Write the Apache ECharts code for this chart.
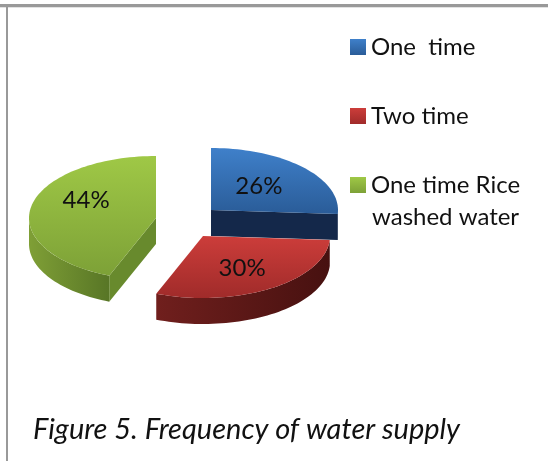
<!DOCTYPE html>
<html>
<head>
    <meta charset="UTF-8">
    <title>Figure 5</title>
    <script src="https://cdn.jsdelivr.net/npm/echarts@6/dist/echarts.min.js"></script>
    <style>html,body{margin:0;padding:0;background:#fff}</style>
</head>
<body>
    <div id="chart" style="width:548px;height:461px;"></div>
    <script>
        var categories = ['One  time', 'Two time', 'One time Rice washed water'];
        var percents = [26, 30, 44];
        var caption = 'Figure 5. Frequency of water supply';

        // pseudo 3D pie: every slice has its own exploded centre
        var rx = 127, ry = 62, depth = 26;
        var centers = [[211, 210], [203, 236], [156, 218]];
        var labelDx = [-4, 1, 0];
        var labelDy = [1, 2, -11];
        var top_colors = [['#3f80ca', '#2a5c98'], ['#cc3d3a', '#a02b2a'], ['#9fc846', '#7da137']];
        var wall_colors = [['#14284a', '#14284a'], ['#701f1d', '#471110'], ['#7f9f36', '#587626']];
        var cut_colors = ['#14284a', '#4a1210', '#688a2d'];
        var legend_tops = [35, 104, 173];

        var chart = echarts.init(document.getElementById('chart'), null, {renderer: 'canvas'});

        function grad(c, horizontal) {
            return new echarts.graphic.LinearGradient(0, 0, horizontal ? 1 : 0, horizontal ? 0 : 1,
                [{offset: 0, color: c[0]}, {offset: 1, color: c[1]}]);
        }
        function rim(idx, deg, dy) {
            var a = deg * Math.PI / 180;
            return [centers[idx][0] + rx * Math.sin(a), centers[idx][1] - ry * Math.cos(a) + dy];
        }
        function arc(idx, from, to, dy) {
            var pts = [];
            var n = Math.max(2, Math.ceil((to - from) / 2));
            for (var i = 0; i <= n; i++) {
                pts.push(rim(idx, from + (to - from) * i / n, dy));
            }
            return pts;
        }
        function poly(points, fill) {
            return {type: 'polygon', shape: {points: points}, style: {fill: fill}};
        }

        function renderSlice(params, api) {
            var idx = params.seriesIndex;
            var value = api.value(0);
            var start = 0;
            for (var i = 0; i < idx; i++) start += percents[i];
            var a0 = start * 3.6, a1 = (start + value) * 3.6;
            var c = centers[idx];
            var kids = [];

            // cut faces, only those turned toward the viewer
            if (Math.sin(a0 * Math.PI / 180) < -0.01) {
                var p0 = rim(idx, a0, 0);
                kids.push(poly([c, p0, [p0[0], p0[1] + depth], [c[0], c[1] + depth]], cut_colors[idx]));
            }
            if (Math.sin(a1 * Math.PI / 180) > 0.01) {
                var p1 = rim(idx, a1, 0);
                kids.push(poly([c, p1, [p1[0], p1[1] + depth], [c[0], c[1] + depth]], cut_colors[idx]));
            }
            // outer wall, front half of the ellipse
            var w0 = Math.max(a0, 90), w1 = Math.min(a1, 270);
            if (w1 > w0) {
                kids.push(poly(arc(idx, w0, w1, 0).concat(arc(idx, w0, w1, depth).reverse()),
                    grad(wall_colors[idx], true)));
            }
            // top face
            kids.push({
                type: 'polygon',
                shape: {points: [c].concat(arc(idx, a0, a1, 0))},
                style: {fill: grad(top_colors[idx], false)}
            });
            // percent label
            var mid = (a0 + a1) / 2 * Math.PI / 180;
            kids.push({
                type: 'text',
                z2: 10,
                style: {
                    x: c[0] + rx * 0.56 * Math.sin(mid) + labelDx[idx],
                    y: c[1] - ry * 0.58 * Math.cos(mid) + labelDy[idx],
                    text: value + '%',
                    fill: '#111',
                    font: '24px Lato',
                    align: 'center',
                    verticalAlign: 'middle'
                }
            });
            return {type: 'group', children: kids};
        }

        var series = categories.map(function (name, i) {
            return {
                type: 'custom',
                name: name,
                coordinateSystem: 'none',
                animation: false,
                silent: true,
                itemStyle: {color: top_colors[i][0]},
                renderItem: renderSlice,
                data: [[percents[i]]]
            };
        });

        var legends = categories.map(function (name, i) {
            return {
                left: 350,
                top: legend_tops[i],
                padding: 0,
                selectedMode: false,
                icon: 'rect',
                itemWidth: 16,
                itemHeight: 16,
                data: [{name: name, itemStyle: {color: grad(top_colors[i], false)}}],
                formatter: function (n) { return n.replace(' washed water', ''); },
                textStyle: {fontFamily: 'Lato', fontSize: 24, color: '#111', padding: 0}
            };
        });

        chart.setOption({
            animation: false,
            legend: legends,
            series: series,
            graphic: [
                {type: 'line', shape: {x1: 0, y1: 5.5, x2: 548, y2: 5.5}, style: {stroke: '#999999', lineWidth: 3}},
                {type: 'line', shape: {x1: 0, y1: 7.5, x2: 548, y2: 7.5}, style: {stroke: '#e2e2e2', lineWidth: 1}},
                {type: 'line', shape: {x1: 7, y1: 7, x2: 7, y2: 461}, style: {stroke: '#999999', lineWidth: 2}},
                {type: 'text', style: {x: 372, y: 217, text: 'washed water', fill: '#111', font: '24px Lato', verticalAlign: 'middle'}},
                {type: 'text', style: {x: 33, y: 430, text: caption, fill: '#111', font: 'italic 29px Lato', verticalAlign: 'middle'}}
            ]
        });
    </script>
</body>
</html>
